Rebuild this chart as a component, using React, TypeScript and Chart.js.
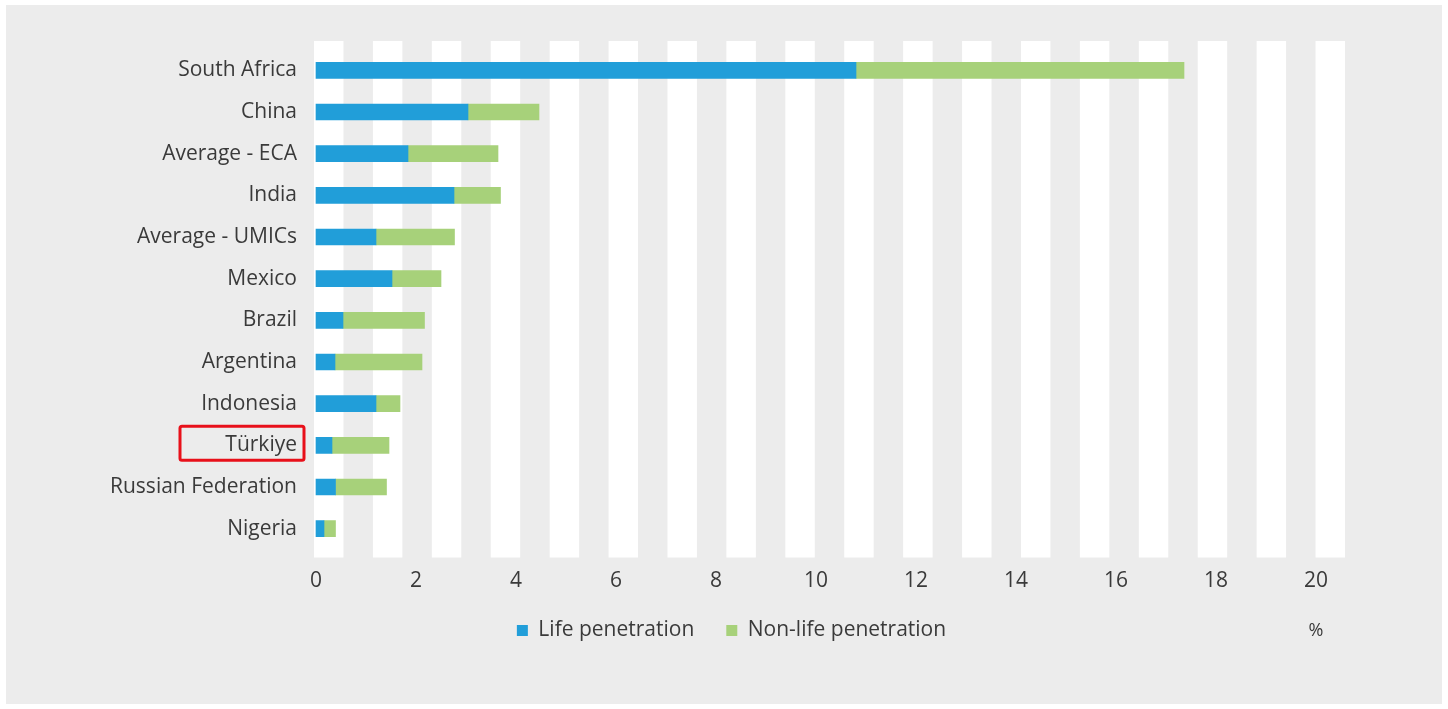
import React, { useEffect, useRef } from "react";
import { Chart, registerables } from "chart.js";

Chart.register(...registerables);

const categories = [
  "South Africa",
  "China",
  "Average - ECA",
  "India",
  "Average - UMICs",
  "Mexico",
  "Brazil",
  "Argentina",
  "Indonesia",
  "Türkiye",
  "Russian Federation",
  "Nigeria",
];
const lifePenetration = [10.8, 3.04, 1.84, 2.76, 1.2, 1.52, 0.54, 0.38, 1.2, 0.32, 0.39, 0.16];
const nonLifePenetration = [6.56, 1.42, 1.8, 0.93, 1.57, 0.98, 1.63, 1.74, 0.48, 1.14, 1.02, 0.23];
const xTickValues = [0, 2, 4, 6, 8, 10, 12, 14, 16, 18, 20];
const seriesNames = ["Life penetration", "Non-life penetration"];
const unitLabel = "%";
const highlighted = "Türkiye";

const FONT = "'Open Sans', sans-serif";
const TEXT = "#3a3a3a";

const stripesPlugin = {
  id: "stripes",
  beforeDatasetsDraw(chart: any) {
    const { ctx, chartArea: a } = chart;
    const n = 35;
    const w = (a.right - a.left) / n;
    ctx.save();
    ctx.fillStyle = "#ffffff";
    for (let i = 0; i < n; i += 2) {
      ctx.fillRect(a.left + i * w, a.top - 8.5, w, a.bottom - a.top + 16.5);
    }
    ctx.restore();
  },
};

const legendShiftPlugin = {
  id: "legendShift",
  afterLayout(chart: any) {
    const lg = chart.legend;
    if (lg) {
      lg.left += 56;
      lg.right += 56;
    }
  },
};

const extrasPlugin = {
  id: "extras",
  afterDraw(chart: any) {
    const { ctx } = chart;
    const x = chart.scales.x;
    const y = chart.scales.y;
    const boxes = chart.legend && chart.legend.legendHitBoxes;
    if (boxes && boxes.length) {
      const ly = boxes[0].top + boxes[0].height / 2;
      ctx.save();
      ctx.fillStyle = TEXT;
      ctx.font = `18px ${FONT}`;
      ctx.textAlign = "center";
      ctx.textBaseline = "middle";
      ctx.fillText(unitLabel, x.getPixelForValue(20), ly);
      ctx.restore();
    }
    const idx = categories.indexOf(highlighted);
    if (idx >= 0) {
      const cy = y.getPixelForValue(idx) - 2;
      const right = y.right - 17 + 7;
      ctx.save();
      ctx.strokeStyle = "#e8101a";
      ctx.lineWidth = 3;
      ctx.beginPath();
      ctx.roundRect(right - 124, cy - 17, 124, 34, 2);
      ctx.stroke();
      ctx.restore();
    }
  },
};

export default function App() {
  const ref = useRef<HTMLCanvasElement | null>(null);

  useEffect(() => {
    if (!ref.current) return;
    const chart = new Chart(ref.current, {
      type: "bar",
      data: {
        labels: categories,
        datasets: [
          {
            label: seriesNames[0],
            data: lifePenetration,
            backgroundColor: "#219ed9",
            barThickness: 16,
          },
          {
            label: seriesNames[1],
            data: nonLifePenetration,
            backgroundColor: "#a7d17a",
            barThickness: 16,
          },
        ],
      },
      options: {
        indexAxis: "y",
        animation: false,
        responsive: true,
        maintainAspectRatio: false,
        layout: { padding: { left: 0, right: 97, top: 44.5, bottom: 53 } },
        plugins: {
          legend: {
            position: "bottom",
            labels: {
              boxWidth: 11,
              boxHeight: 11,
              padding: 32,
              color: TEXT,
              font: { family: FONT, size: 21 },
            },
          },
          tooltip: { enabled: false },
        },
        scales: {
          x: {
            stacked: true,
            min: -0.04,
            max: 20.58,
            grid: { display: false, drawTicks: false },
            border: { display: false },
            afterBuildTicks: (s: any) => {
              s.ticks = xTickValues.map((v) => ({ value: v }));
            },
            afterFit: (s: any) => {
              s.height = 38.5;
            },
            ticks: {
              padding: 19,
              color: TEXT,
              font: { family: FONT, size: 21 },
            },
          },
          y: {
            stacked: true,
            grid: { display: false, drawTicks: false },
            border: { display: false },
            afterFit: (s: any) => {
              s.width = 308;
            },
            ticks: {
              padding: 17,
              color: TEXT,
              font: { family: FONT, size: 21 },
            },
          },
        },
      },
      plugins: [stripesPlugin, legendShiftPlugin, extrasPlugin],
    });
    return () => chart.destroy();
  }, []);

  return (
    <div
      style={{
        position: "fixed",
        left: 6,
        top: 5,
        width: 1436,
        height: 699,
        background: "#ececec",
      }}
    >
      <canvas ref={ref} />
    </div>
  );
}
